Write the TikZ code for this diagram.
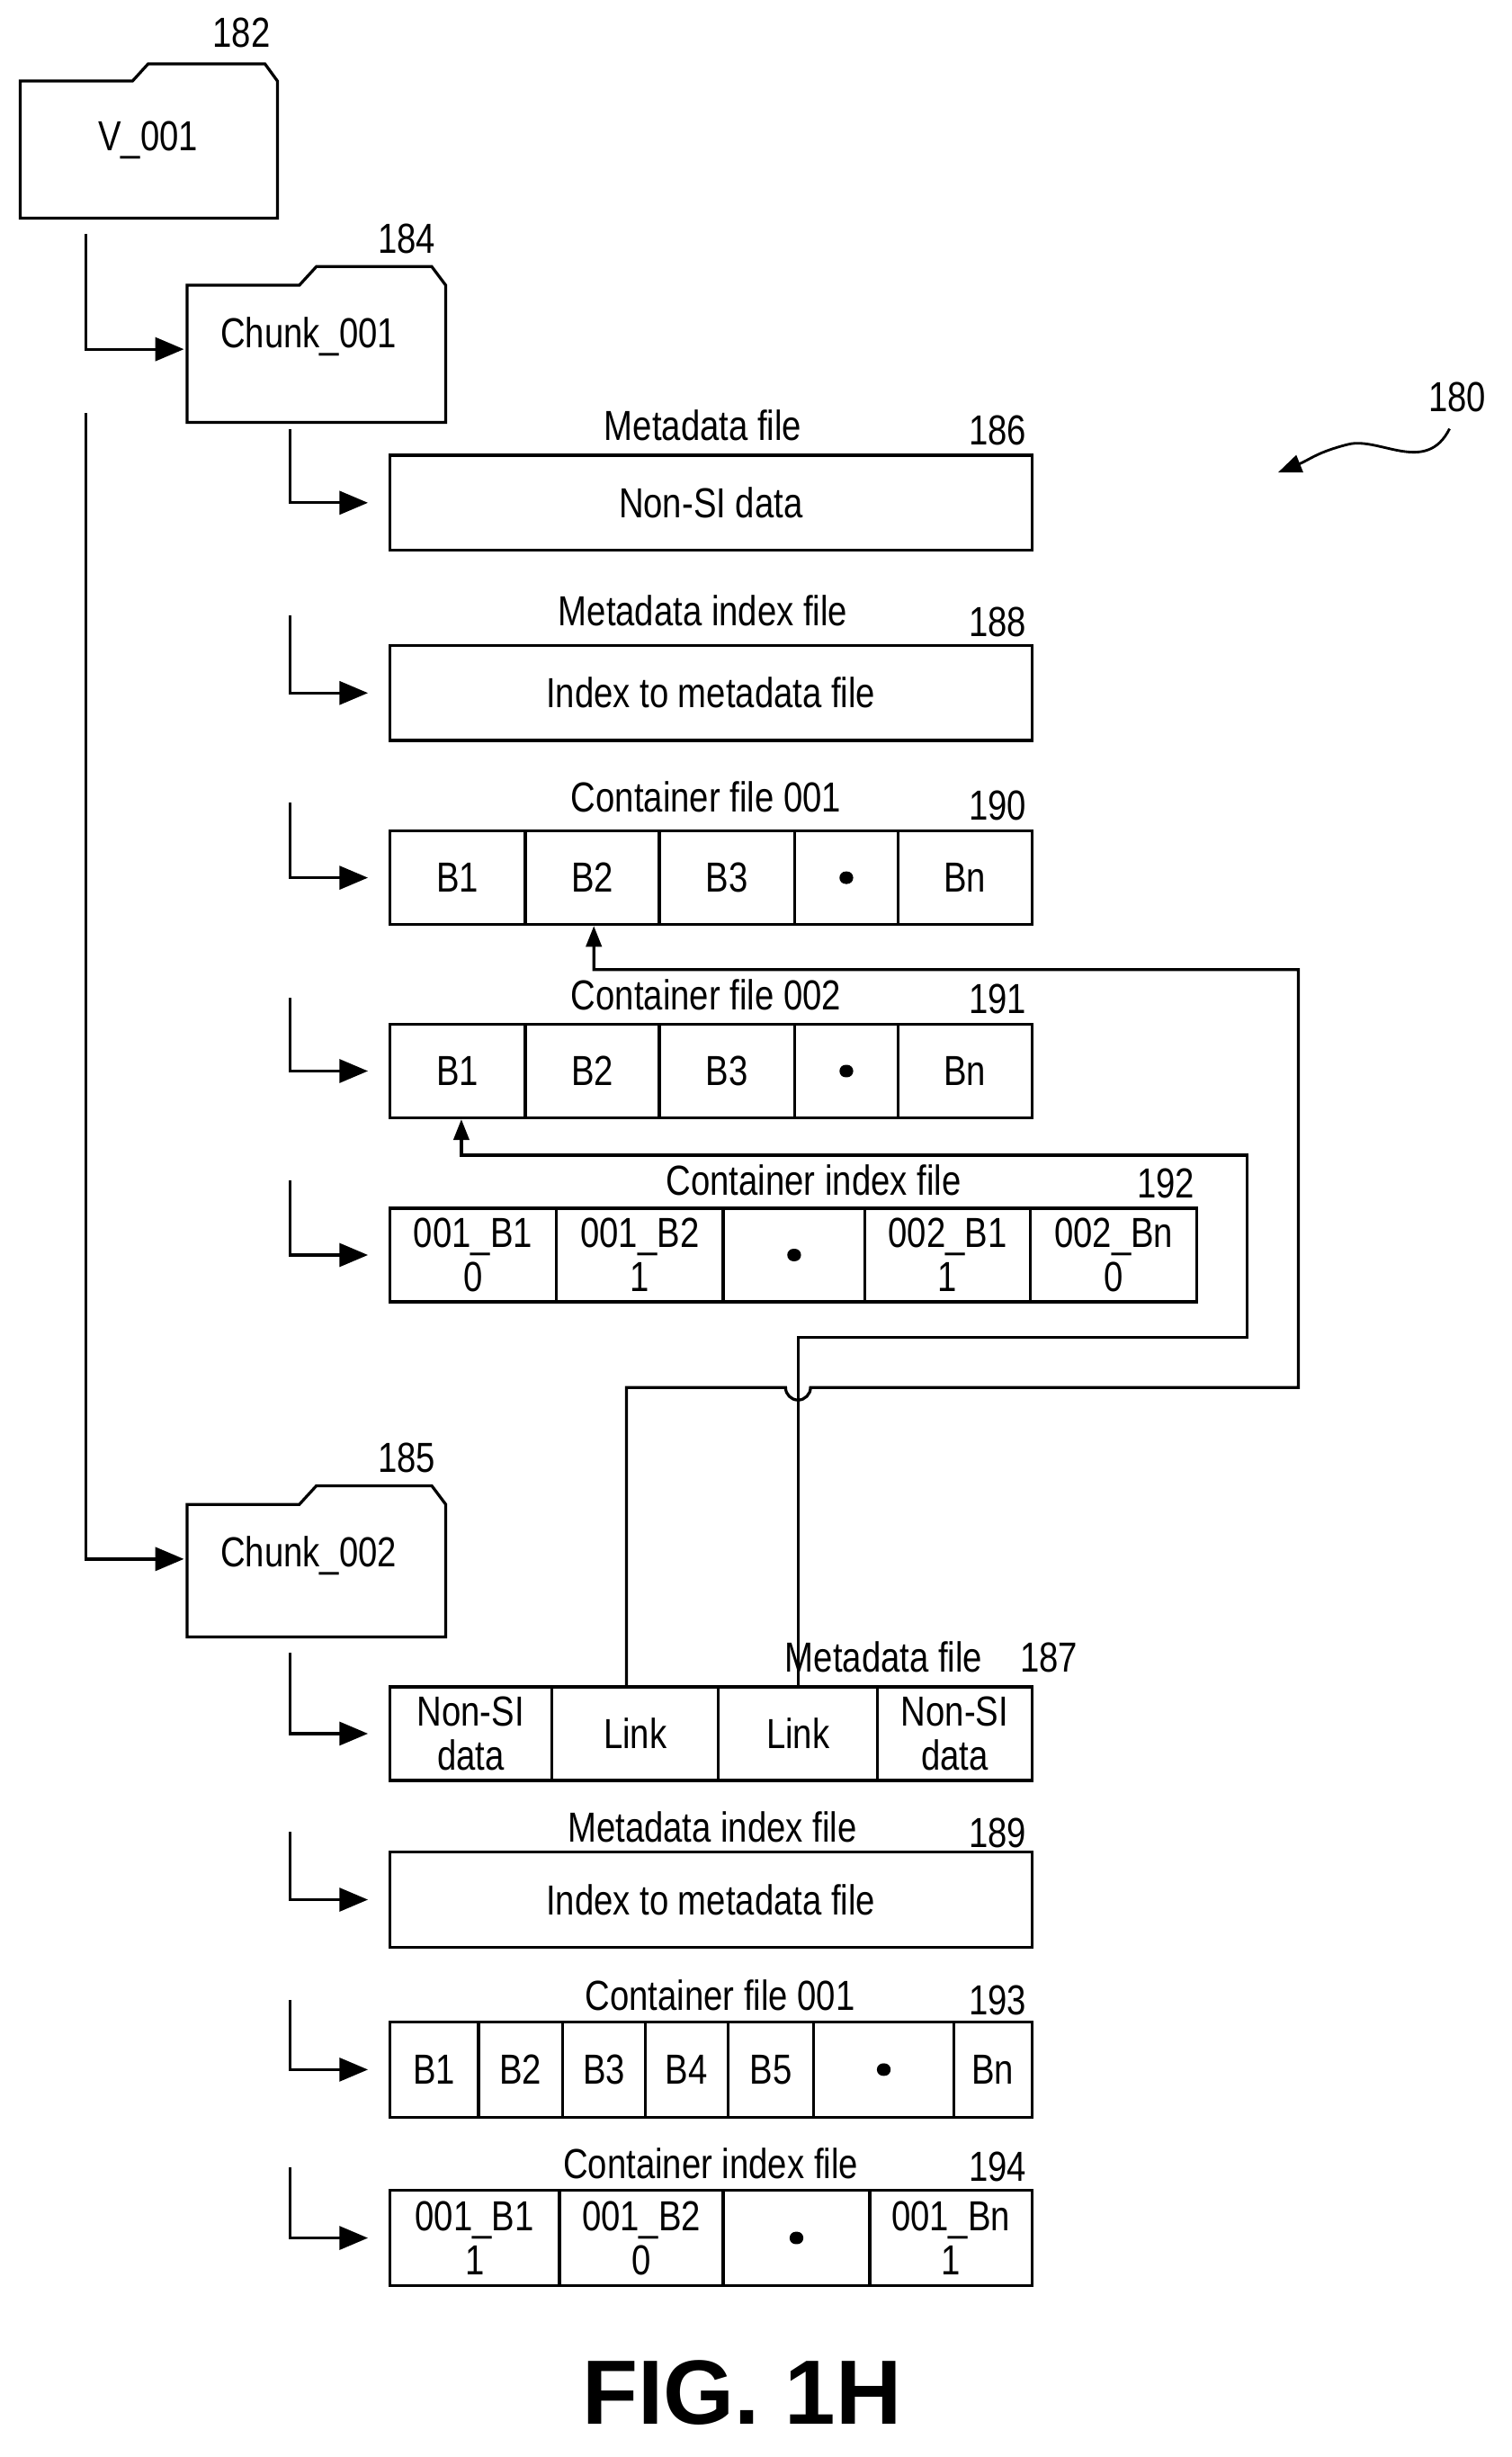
\documentclass[tikz,border=0pt]{standalone}
\usepackage{fontspec}
\setmainfont{Liberation Sans}[FakeStretch=0.82]
\newfontfamily\figfont{Liberation Sans}
\usetikzlibrary{arrows.meta}
\begin{document}
\begin{tikzpicture}[x=0.03cm,y=-0.03cm,line width=1.6pt,
  every node/.style={font=\fontsize{23}{24}\selectfont},
  cell/.style={draw,inner sep=0pt,align=center},
  lab/.style={inner sep=0pt},
  tip/.style={-{Triangle[length=0.55cm,width=0.45cm]}},
  conn/.style={tip,shorten >=0.39cm},
  lk/.style={-{Triangle[length=0.4cm,width=0.3cm]}}]
\useasboundingbox (0,0) rectangle (970,1576);
\newcommand\cel[6]{\node[cell,minimum width={(#3-#2)*0.03cm},minimum height={(#5-#4)*0.03cm}] (#1) at ({(#2+#3)/2},{(#4+#5)/2}) {#6};}
\newcommand\bdots{\tikz[baseline=-0.1cm]{\fill (0,0) circle (0.12cm) (0.42,0) circle (0.12cm) (0.84,0) circle (0.12cm);}}
% V_001
\draw (13,140) -- (13,52) -- (85,52) -- (95,41) -- (170,41) -- (178,52) -- (178,140) -- cycle;
\node[lab] (v001) at (95,90) {V\_001};
\node[lab] (l182) at (155,21) {182};
% Chunk_001
\draw (120,271) -- (120,183) -- (192,183) -- (203,171) -- (277,171) -- (286,183) -- (286,271) -- cycle;
\node[lab] (c001) at (198,216) {Chunk\_001};
\node[lab] (l184) at (261,153) {184};
% Chunk_002
\draw (120,1050) -- (120,965) -- (192,965) -- (203,953) -- (277,953) -- (286,965) -- (286,1050) -- cycle;
\node[lab] (c002) at (198,998) {Chunk\_002};
\node[lab] (l185) at (261,935) {185};
% V connectors
\coordinate (v1) at (55,150); \coordinate (v1e) at (118,224);
\coordinate (v2) at (55,265); \coordinate (v2e) at (118,1000);
\draw[tip] (v1) |- (v1e);
\draw[tip] (v2) |- (v2e);
% 186
\cel{b186}{250}{662}{292}{353}{Non-SI data}
\node[lab] (t186) at (451,273) {Metadata file};
\node[lab] (l186) at (640,276) {186};
% 188
\cel{b188}{250}{662}{414}{475}{Index to metadata file}
\node[lab] (t188) at (451,392) {Metadata index file};
\node[lab] (l188) at (640,399) {188};
% 190
\cel{a1}{250}{337}{533}{593}{B1}\cel{a2}{337}{423}{533}{593}{B2}\cel{a3}{423}{510}{533}{593}{B3}
\cel{a4}{510}{576}{533}{593}{\bdots}\cel{a5}{576}{662}{533}{593}{Bn}
\node[lab] (t190) at (453,511) {Container file 001};
\node[lab] (l190) at (640,517) {190};
% 191
\cel{c1}{250}{337}{657}{717}{B1}\cel{c2}{337}{423}{657}{717}{B2}\cel{c3}{423}{510}{657}{717}{B3}
\cel{c4}{510}{576}{657}{717}{\bdots}\cel{c5}{576}{662}{657}{717}{Bn}
\node[lab] (t191) at (453,638) {Container file 002};
\node[lab] (l191) at (640,641) {191};
% 192
\cel{d1}{250}{357}{775}{835}{001\_B1\\0}\cel{d2}{357}{464}{775}{835}{001\_B2\\1}
\cel{d3}{464}{555}{775}{835}{\bdots}\cel{d4}{555}{661}{775}{835}{002\_B1\\1}\cel{d5}{661}{768}{775}{835}{002\_Bn\\0}
\node[lab] (t192) at (522,757) {Container index file};
\node[lab] (l192) at (748,759) {192};
% 187
\cel{e1}{250}{354}{1082}{1142}{Non-SI\\data}\cel{e2}{354}{461}{1082}{1142}{Link}
\cel{e3}{461}{563}{1082}{1142}{Link}\cel{e4}{563}{662}{1082}{1142}{Non-SI\\data}
\node[lab] (t187) at (567,1063) {Metadata file};
\node[lab] (l187) at (673,1063) {187};
% 189
\cel{b189}{250}{662}{1188}{1249}{Index to metadata file}
\node[lab] (t189) at (457,1172) {Metadata index file};
\node[lab] (l189) at (640,1176) {189};
% 193
\cel{f1}{250}{307}{1297}{1358}{B1}\cel{f2}{307}{361}{1297}{1358}{B2}\cel{f3}{361}{414}{1297}{1358}{B3}
\cel{f4}{414}{467}{1297}{1358}{B4}\cel{f5}{467}{522}{1297}{1358}{B5}\cel{f6}{522}{612}{1297}{1358}{\bdots}
\cel{f7}{612}{662}{1297}{1358}{Bn}
\node[lab] (t193) at (462,1280) {Container file 001};
\node[lab] (l193) at (640,1283) {193};
% 194
\cel{g1}{250}{359}{1405}{1466}{001\_B1\\1}\cel{g2}{359}{464}{1405}{1466}{001\_B2\\0}
\cel{g3}{464}{558}{1405}{1466}{\bdots}\cel{g4}{558}{662}{1405}{1466}{001\_Bn\\1}
\node[lab] (t194) at (456,1388) {Container index file};
\node[lab] (l194) at (640,1390) {194};
% chunk connectors
\foreach \ya/\n in {275/b186,395/b188,515/a1,640/c1,757/d1,1060/e1,1175/b189,1283/f1,1390/g1}{
  \coordinate (s\n) at (186,\ya);
  \draw[conn] (s\n) |- (\n.west);
}
% link connectors
\draw[lk] (e2.north -| 402,0) -- (402,890) -- (504,890) arc[start angle=180,end angle=0,radius=8] -- (833,890) -- (833,622) -- (381,622) -- (a2.south -| 381,0);
\draw[lk] (e3.north -| 512,0) -- (512,858) -- (800,858) -- (800,741) -- (296,741) -- (c1.south -| 296,0);
% 180
\node[lab] (l180) at (935,255) {180};
\coordinate (q1) at (930,275); \coordinate (q2) at (820,303);
\draw[-{Triangle[length=0.45cm,width=0.35cm]},line width=1.4pt] (q1) .. controls (915,305) and (885,280) .. (865,285) .. controls (845,290) and (840,295) .. (q2);
\node[lab,font=\figfont\fontsize{50}{50}\selectfont\bfseries] (fig) at (476,1535) {FIG. 1H};
\end{tikzpicture}
\end{document}
